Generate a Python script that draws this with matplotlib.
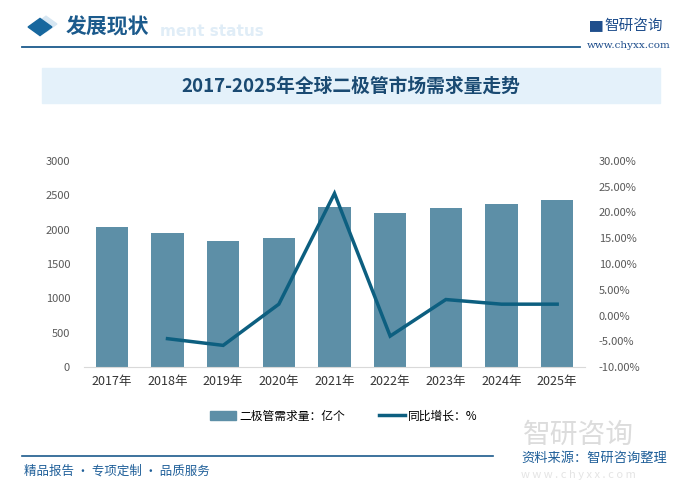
import matplotlib.pyplot as plt
import matplotlib.patches as mpatches
from matplotlib.lines import Line2D
import numpy as np

plt.rcParams['font.family'] = ['Noto Sans CJK SC', 'DejaVu Sans']

# 数据
years = ['2017年', '2018年', '2019年', '2020年', '2021年', '2022年', '2023年', '2024年', '2025年']
demand = [2040, 1950, 1835, 1880, 2330, 2240, 2315, 2375, 2430]  # 亿个
growth = [None, -4.5, -5.8, 2.2, 23.7, -4.0, 3.1, 2.2, 2.2]  # %

bar_color = '#5d8fa7'
line_color = '#0d5f80'
dark_blue = '#1b5a8c'

fig = plt.figure(figsize=(6.82, 4.90), dpi=100)
W, H = 682, 490


def fx(x):
    return x / W


def fy(y):
    return 1 - y / H


# 页眉
fig.patches.append(mpatches.RegularPolygon((fx(46), fy(24)), 4, radius=0.016, color='#d6e6f2',
                                           transform=fig.transFigure, figure=fig))
fig.patches.append(mpatches.RegularPolygon((fx(40), fy(27)), 4, radius=0.0175, color='#17679e',
                                           transform=fig.transFigure, figure=fig))
fig.text(fx(160), fy(31), 'ment status', fontsize=11, color='#e0edf7', fontweight='bold',
         ha='left', va='center', family='DejaVu Sans')
fig.text(fx(66), fy(27), '发展现状', fontsize=15, color=dark_blue, ha='left', va='center', fontweight='bold')
fig.lines.append(Line2D([fx(22), fx(580)], [fy(47), fy(47)], color=dark_blue, lw=1.3,
                        transform=fig.transFigure))
fig.text(fx(590), fy(26), '▇', fontsize=9, color='#1f4e8c', ha='left', va='center')
fig.text(fx(604), fy(26), '智研咨询', fontsize=10.5, color='#1f4e8c', ha='left', va='center')
fig.text(fx(629), fy(46), 'www.chyxx.com', fontsize=7.5, color='#1f4e8c', ha='center', va='center',
         family='DejaVu Serif')

# 标题框
fig.patches.append(mpatches.Rectangle((fx(42), fy(103)), fx(618), 35 / H, color='#e4f1fa',
                                      transform=fig.transFigure, figure=fig, zorder=1))
fig.text(0.515, fy(86), '2017-2025年全球二极管市场需求量走势', fontsize=13.5, color='#1a4a72',
         ha='center', va='center', fontweight='bold', zorder=2)

# 主图
ax = fig.add_axes([fx(84), fy(367), fx(501), 206 / H])
ax.patch.set_alpha(0)
x = np.arange(len(years))
ax.bar(x, demand, width=0.58, color=bar_color, zorder=2)
ax.set_xlim(-0.5, len(years) - 0.5)
ax.set_ylim(0, 3000)
ax.set_yticks(np.arange(0, 3001, 500))
ax.set_xticks(x)
ax.set_xticklabels(years, fontsize=9, color='#333333')
ax.tick_params(axis='y', labelsize=8, colors='#595959', length=0, pad=10)
ax.tick_params(axis='x', length=0, pad=6)
for s in ['top', 'right', 'left']:
    ax.spines[s].set_visible(False)
ax.spines['bottom'].set_color('#d9d9d9')

ax2 = ax.twinx()
gx = [i for i, g in enumerate(growth) if g is not None]
gy = [g for g in growth if g is not None]
ax2.plot(gx, gy, color=line_color, lw=2.5, zorder=3, solid_joinstyle='miter')
ax2.set_ylim(-10, 30)
ax2.set_yticks(np.arange(-10, 31, 5))
ax2.set_yticklabels([f'{v:.2f}%' for v in np.arange(-10, 31, 5)])
ax2.tick_params(axis='y', labelsize=8, colors='#595959', length=0, pad=10)
for s in ['top', 'right', 'left', 'bottom']:
    ax2.spines[s].set_visible(False)

# 图例
handles = [mpatches.Patch(color=bar_color, label='二极管需求量：亿个'),
           Line2D([0], [0], color=line_color, lw=2.5, label='同比增长：%')]
fig.legend(handles=handles, loc='center', bbox_to_anchor=(fx(344), fy(416)), ncol=2, frameon=False,
           fontsize=8.5, handlelength=2.2, handleheight=0.7, columnspacing=2.8, handletextpad=0.3)

# 页脚
fig.text(fx(578), fy(435), '智研咨询', fontsize=20, color='#dcdcdc', ha='center', va='center')
fig.lines.append(Line2D([fx(22), fx(493)], [fy(456), fy(456)], color=dark_blue, lw=1.2,
                        transform=fig.transFigure))
fig.text(fx(667), fy(458), '资料来源：智研咨询整理', fontsize=9.5, color='#1f5f99', ha='right', va='center')
fig.text(fx(578), fy(475), 'w w w . c h y x x . c o m', fontsize=8, color='#e4e4e4', ha='center', va='center')
fig.text(fx(24), fy(471), '精品报告 · 专项定制 · 品质服务', fontsize=9, color='#1f5f99', ha='left', va='center')

fig.savefig('out.png', dpi=100)
